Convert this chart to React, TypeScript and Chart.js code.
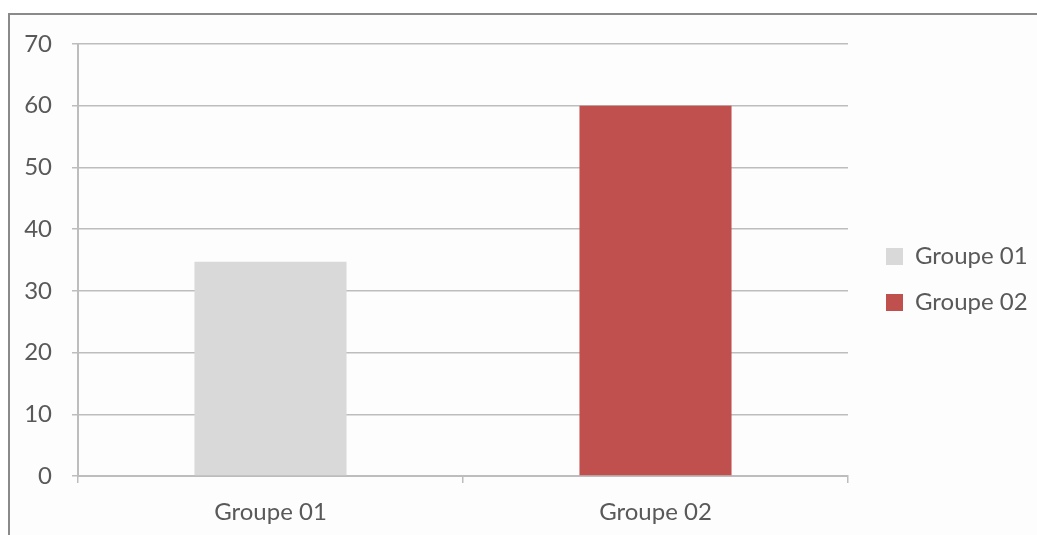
import React, { useEffect, useRef } from "react";
import { Chart, registerables } from "chart.js";

Chart.register(...registerables);

const categories = ["Groupe 01", "Groupe 02"];
const values = [34.7, 60];
const barColors = ["#d9d9d9", "#c0504d"];
const yTicks = [0, 10, 20, 30, 40, 50, 60, 70];

const FONT = "Lato, 'Open Sans', sans-serif";
const TEXT = "#595959";
const GRID = "#bdbdbd";

const legendFix = {
  id: "legendFix",
  afterInit(chart: any) {
    const lg = chart.legend;
    if (!lg) return;
    const orig = lg.fit.bind(lg);
    lg.fit = function () {
      orig();
      lg.width = 1037 - 848;
    };
  },
  afterLayout(chart: any) {
    const lg = chart.legend;
    if (!lg) return;
    const dx = 886 - (lg.left + lg.options.labels.padding);
    lg.left += dx;
    lg.right += dx;
    const dy = -10;
    lg.top += dy;
    lg.bottom += dy;
  },
};

export default function App() {
  const ref = useRef<HTMLCanvasElement>(null);
  useEffect(() => {
    if (!ref.current) return;
    const chart = new Chart(ref.current, {
      type: "bar",
      data: {
        labels: categories,
        datasets: [
          {
            label: "Valeurs",
            data: values,
            backgroundColor: barColors,
            borderWidth: 0,
            categoryPercentage: 1,
            barPercentage: 0.395,
          },
        ],
      },
      plugins: [legendFix],
      options: {
        animation: false,
        responsive: false,
        devicePixelRatio: 1,
        layout: { padding: { top: 44, right: 0, bottom: 0, left: 0 } },
        plugins: {
          tooltip: { enabled: false },
          legend: {
            display: true,
            position: "right",
            align: "center",
            labels: {
              boxWidth: 17,
              boxHeight: 17,
              padding: 22,
              color: TEXT,
              font: { family: FONT, size: 24 },
              generateLabels: (ch: any) =>
                ch.data.labels.map((l: string, i: number) => ({
                  text: l,
                  fillStyle: barColors[i],
                  strokeStyle: barColors[i],
                  fontColor: TEXT,
                  lineWidth: 0,
                  hidden: false,
                  index: i,
                  datasetIndex: 0,
                })),
            },
          },
        },
        scales: {
          x: {
            offset: true,
            grid: {
              offset: true,
              drawOnChartArea: false,
              drawTicks: true,
              tickLength: 7,
              color: GRID,
              lineWidth: 1.5,
            },
            border: { display: true, color: GRID, width: 2 },
            ticks: {
              color: TEXT,
              font: { family: FONT, size: 24 },
              padding: 15,
            },
            afterFit: (s: any) => {
              s.height = 535 - 476;
            },
          },
          y: {
            min: 0,
            max: 70,
            afterBuildTicks: (s: any) => {
              s.ticks = yTicks.map((v) => ({ value: v }));
            },
            grid: {
              color: GRID,
              lineWidth: 1.5,
              drawTicks: true,
              tickLength: 6,
            },
            border: { display: true, color: GRID, width: 2 },
            ticks: {
              color: TEXT,
              font: { family: FONT, size: 24 },
              padding: 20,
            },
            afterFit: (s: any) => {
              s.width = 78;
            },
          },
        },
      },
    });
    return () => chart.destroy();
  }, []);

  return (
    <div
      style={{
        position: "absolute",
        left: 0,
        top: 0,
        width: 1037,
        height: 535,
        overflow: "hidden",
        background: "#ffffff",
      }}
    >
      <div
        style={{
          position: "absolute",
          left: 8,
          top: 13,
          width: 1100,
          height: 600,
          border: "2px solid #8a8a8a",
          background: "#fdfdfd",
        }}
      />
      <canvas
        ref={ref}
        width={1037}
        height={535}
        style={{ position: "absolute", left: 0, top: 0, width: 1037, height: 535 }}
      />
    </div>
  );
}
